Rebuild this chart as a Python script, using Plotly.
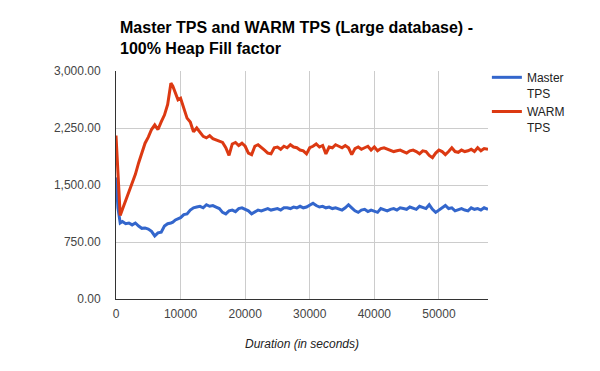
import plotly.graph_objects as go

duration = [0, 300, 650, 1000, 1500, 2000, 2500, 3000, 3500, 4000, 4500, 5000, 5500,
            6000, 6500, 7000, 7500, 8000, 8500, 8800, 9200, 9600, 10000, 10500, 11000,
            11500, 12000, 12500, 13000, 13500, 14000, 14500, 15000, 15500, 16000, 16500,
            17000, 17500, 18000, 18500, 19000, 19500, 20000, 20500, 21000, 21500, 22000,
            22500, 23000, 23500, 24000, 24500, 25000, 25500, 26000, 26500, 27000, 27500,
            28000, 28500, 29000, 29500, 30000, 30500, 31000, 31500, 32000, 32500, 33000,
            33500, 34000, 34500, 35000, 35500, 36000, 36500, 37000, 37500, 38000, 38500,
            39000, 39500, 40000, 40500, 41000, 41500, 42000, 42500, 43000, 43500, 44000,
            44500, 45000, 45500, 46000, 46500, 47000, 47500, 48000, 48500, 49000, 49500,
            50000, 50500, 51000, 51500, 52000, 52500, 53000, 53500, 54000, 54500, 55000,
            55500, 56000, 56500, 57000, 57600]

warm_tps = [2150, 1600, 1100, 1180, 1290, 1420, 1530, 1640, 1790, 1930, 2050, 2130, 2230,
            2290, 2230, 2330, 2420, 2560, 2840, 2800, 2700, 2620, 2640, 2520, 2380,
            2330, 2200, 2250, 2200, 2140, 2120, 2150, 2110, 2090, 2080, 2060,
            1990, 1890, 2040, 2060, 2020, 2050, 2010, 1920, 1900, 2010, 2030,
            2000, 1960, 1920, 1910, 1990, 2000, 1970, 2010, 1990, 2030, 2000,
            1990, 1960, 1950, 1910, 1990, 2010, 2040, 2000, 2020, 1910, 2000,
            1990, 2030, 2010, 1990, 2020, 1990, 1900, 1980, 2000, 1970, 1990,
            2010, 1960, 2000, 1950, 1980, 1990, 1970, 1960, 1940, 1950, 1960,
            1940, 1920, 1950, 1960, 1940, 1910, 1950, 1940, 1890, 1860, 1920,
            1960, 1940, 1900, 1940, 1990, 1940, 1930, 1960, 1940, 1950, 1970,
            1940, 1990, 1950, 1980, 1970]

master_tps = [1600, 1200, 1000, 1020, 990, 1000, 975, 1000, 960, 930, 935, 920, 890,
              830, 870, 880, 960, 990, 1000, 1010, 1040, 1050, 1070, 1110, 1120,
              1170, 1200, 1210, 1220, 1200, 1240, 1220, 1230, 1210, 1190, 1140,
              1120, 1160, 1170, 1150, 1190, 1200, 1180, 1160, 1120, 1150, 1170,
              1160, 1180, 1190, 1170, 1180, 1190, 1170, 1200, 1200, 1190, 1210,
              1200, 1220, 1200, 1210, 1230, 1260, 1230, 1210, 1220, 1200, 1210,
              1190, 1200, 1180, 1170, 1200, 1240, 1200, 1160, 1140, 1170, 1180,
              1150, 1170, 1160, 1140, 1190, 1170, 1160, 1180, 1190, 1170, 1200,
              1190, 1180, 1210, 1200, 1180, 1220, 1200, 1190, 1240, 1180, 1140,
              1170, 1200, 1230, 1190, 1200, 1160, 1170, 1190, 1170, 1160, 1200,
              1180, 1190, 1170, 1200, 1180]

y_ticks = [0, 750, 1500, 2250, 3000]
x_ticks = [0, 10000, 20000, 30000, 40000, 50000]

W, H = 592, 363

fig = go.Figure()
fig.add_trace(go.Scatter(x=duration, y=master_tps, mode="lines", name="Master<br>TPS",
                         line=dict(color="#3366CC", width=3)))
fig.add_trace(go.Scatter(x=duration, y=warm_tps, mode="lines", name="WARM<br>TPS",
                         line=dict(color="#DC3912", width=3)))

fig.update_layout(
    width=W, height=H,
    margin=dict(l=108, r=112, t=63, b=72),
    paper_bgcolor="white", plot_bgcolor="white",
    font=dict(family="Liberation Sans, Arial, sans-serif", size=12, color="#444444"),
    title=dict(text="<b>Master TPS and WARM TPS (Large database) -<br>100% Heap Fill factor</b>",
               font=dict(size=16, color="#000000"),
               x=112/W, xanchor="left", xref="container",
               y=1 - 25/H, yanchor="top", yref="container"),
    legend=dict(x=0.997, y=1.035, xanchor="left", yanchor="top",
                font=dict(size=12, color="#222222"), valign="top",
                tracegroupgap=5, bgcolor="rgba(0,0,0,0)"),
    showlegend=True,
)
fig.update_xaxes(range=[0, 57600], tickvals=x_ticks, ticktext=[str(v) for v in x_ticks],
                 showgrid=True, gridcolor="#CCCCCC", gridwidth=1,
                 showline=True, linecolor="#333333", linewidth=1, zeroline=False,
                 ticks="", ticklabelstandoff=4,
                 title=dict(text="<i>Duration (in seconds)</i>", font=dict(size=12, color="#222222"),
                            standoff=19))
fig.update_yaxes(range=[0, 3000], tickvals=y_ticks, tickformat=",.2f",
                 showgrid=True, gridcolor="#CCCCCC", gridwidth=1,
                 showline=True, linecolor="#333333", linewidth=1, zeroline=False,
                 ticks="", ticklabelstandoff=12)

fig.write_html("out.html")
